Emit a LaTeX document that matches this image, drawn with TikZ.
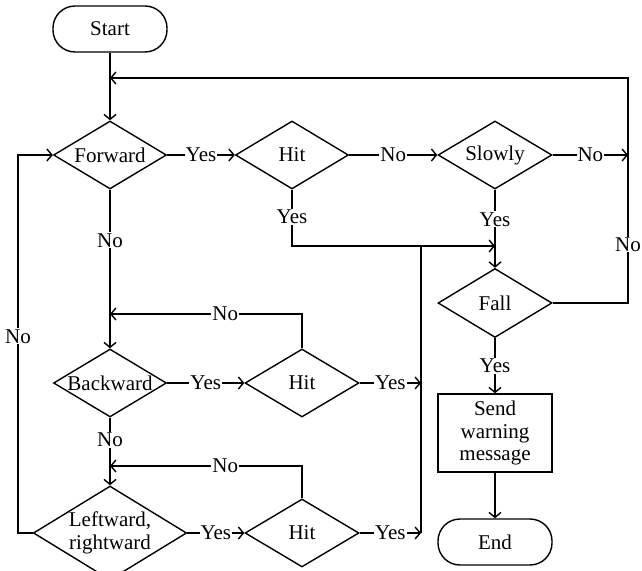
\documentclass[tikz,border=0pt]{standalone}
\usepackage{fontspec}
\setmainfont{Liberation Serif}
\usetikzlibrary{shapes.geometric,arrows.meta}

\newcommand{\mainX}{110}
\newcommand{\hitAX}{292}
\newcommand{\hitBX}{302}
\newcommand{\sideX}{495}
\newcommand{\mergeX}{421}
\newcommand{\rightX}{628}
\newcommand{\leftX}{18}
\newcommand{\topY}{78}
\newcommand{\joinY}{246}
\newcommand{\rowAY}{155}
\newcommand{\rowBY}{383}
\newcommand{\rowCY}{533}

\tikzset{
  decision/.style={draw, diamond, aspect=1.7, inner sep=0pt, line width=0.7pt,
    minimum width=56.5pt, minimum height=34pt, align=center},
  terminal/.style={draw, rectangle, rounded corners=11pt, line width=0.7pt,
    minimum width=57pt, minimum height=23pt},
  process/.style={draw, rectangle, line width=0.7pt, inner sep=1pt,
    minimum width=57pt, minimum height=39pt, align=center},
  flow/.style={line width=0.7pt, -{Straight Barb[length=2.5pt,width=6pt]}},
  plain/.style={line width=0.7pt},
  lbl/.style={fill=white, inner sep=0.5pt},
}

\begin{document}
\begin{tikzpicture}[x=0.5pt, y=-0.5pt, font=\fontsize{10.5}{11.25}\selectfont]
    \useasboundingbox (0,0) rectangle (642,571);

    % Main column
    \node[terminal] (start) at (\mainX,29) {Start};
    \node[decision] (fwd) at (\mainX,\rowAY) {Forward};
    \node[decision] (bwd) at (\mainX,\rowBY) {Backward};
    \node[decision, minimum width=73pt, minimum height=47pt] (lr) at (\mainX,\rowCY) {Leftward,\\rightward};

    % Hit checks
    \node[decision] (hit1) at (\hitAX,\rowAY) {Hit};
    \node[decision, minimum width=57pt] (hit2) at (\hitBX,\rowBY) {Hit};
    \node[decision, minimum width=57pt] (hit3) at (\hitBX,\rowCY) {Hit};

    % Right column
    \node[decision, minimum width=57pt] (slow) at (\sideX,\rowAY) {Slowly};
    \node[decision, minimum width=57pt, minimum height=34.5pt] (fall) at (\sideX,303) {Fall};
    \node[process] (send) at (\sideX,433) {Send\\warning\\message};
    \node[terminal] (finish) at (\sideX,542) {End};

    % Junction points
    \coordinate (fbtop) at (\mainX,\topY);
    \coordinate (rtop) at (\rightX,\topY);
    \coordinate (rslow) at (\rightX,\rowAY);
    \coordinate (joinA) at (\sideX,\joinY);
    \coordinate (mtop) at (\mergeX,\joinY);
    \coordinate (mB) at (\mergeX,\rowBY);
    \coordinate (mC) at (\mergeX,\rowCY);
    \coordinate (retB) at (\mainX,314);
    \coordinate (retC) at (\mainX,466);
    \coordinate (lcorner) at (\leftX,\rowCY);

    % Forward row
    \draw[flow] (start) -- (fwd);
    \draw[flow] (fwd) -- node[lbl]{Yes} (hit1);
    \draw[flow] (hit1) -- node[lbl]{No} (slow);
    \draw[flow] (slow) -- node[lbl]{No} (rslow);
    \draw[flow] (hit1.south) |- node[lbl, pos=0.24]{Yes} (joinA);
    \draw[flow] (slow) -- node[lbl, pos=0.38]{Yes} (fall);
    \draw[flow] (fall.east) -| node[lbl, pos=0.63]{No} (rtop) -- (fbtop);

    % Backward row
    \draw[flow] (fwd) -- node[lbl, pos=0.32]{No} (bwd);
    \draw[flow] (bwd) -- node[lbl]{Yes} (hit2);
    \draw[flow] (hit2) -- node[lbl]{Yes} (mB);
    \draw[flow] (hit2.north) |- node[lbl, pos=0.7]{No} (retB);

    % Leftward row
    \draw[flow] (bwd) -- node[lbl, pos=0.33]{No} (lr);
    \draw[flow] (lr) -- node[lbl]{Yes} (hit3);
    \draw[flow] (hit3) -- node[lbl]{Yes} (mC);
    \draw[flow] (hit3.north) |- node[lbl, pos=0.7]{No} (retC);
    \draw[flow] (lr.west) -- (lcorner) |- node[lbl, pos=0.26]{No} (fwd.west);

    % Merge and warning
    \draw[plain] (mC) -- (mtop);
    \draw[flow] (fall) -- node[lbl]{Yes} (send);
    \draw[flow] (send) -- (finish);
\end{tikzpicture}
\end{document}
